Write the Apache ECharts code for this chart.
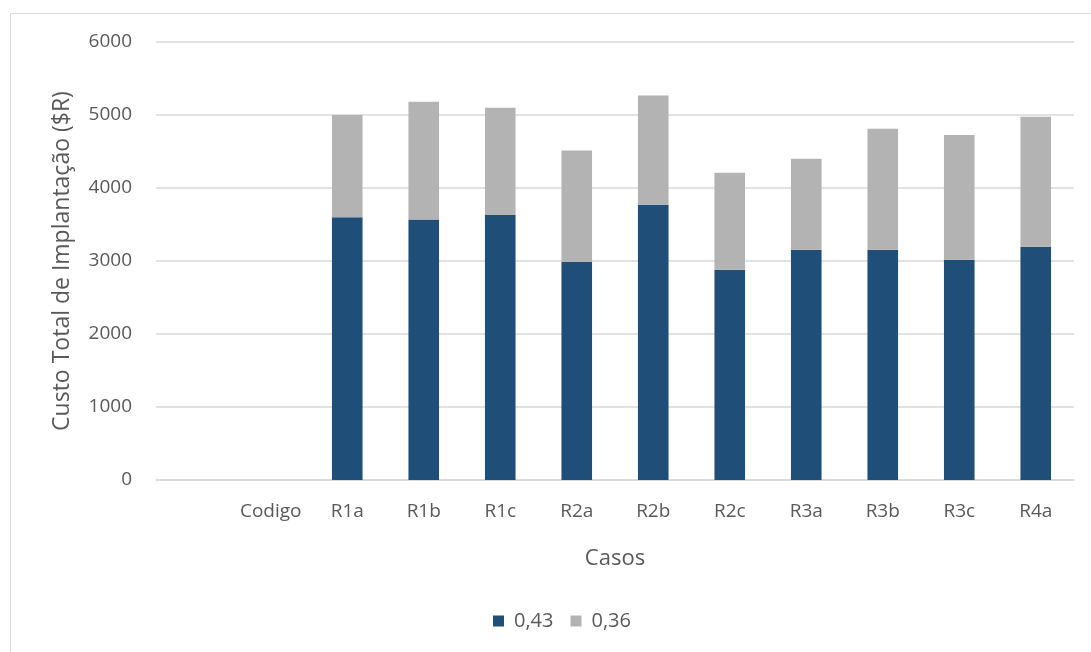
<!DOCTYPE html>
<html>
<head>
<meta charset="utf-8">
<script src="https://cdn.jsdelivr.net/npm/echarts@6/dist/echarts.min.js"></script>
<style>
  html, body { margin: 0; padding: 0; background: #fff; }
  #main { width: 1091px; height: 652px; }
</style>
</head>
<body>
<div id="main"></div>
<script>
  // dados
  var casos = ['', 'Codigo', 'R1a', 'R1b', 'R1c', 'R2a', 'R2b', 'R2c', 'R3a', 'R3b', 'R3c', 'R4a']
  var serie043 = [null, null, 3600, 3570, 3630, 2990, 3770, 2880, 3155, 3155, 3018, 3196]
  var serie036 = [null, null, 1400, 1610, 1470, 1525, 1497, 1329, 1246, 1657, 1708, 1781]
  var yTicks = [0, 1000, 2000, 3000, 4000, 5000, 6000]

  var fonte = 'Open Sans'
  var corTexto = '#595959'

  var myChart = echarts.init(document.getElementById('main'))
  myChart.setOption({
    animation: false,
    color: ['#1F4E79', '#B3B3B3'],
    graphic: [{
      type: 'rect',
      shape: { x: 10.5, y: 13.5, width: 1085, height: 645 },
      style: { fill: 'none', stroke: '#d9d9d9', lineWidth: 1 },
      silent: true
    }],
    grid: { left: 156, right: 17, top: 42, bottom: 172 },
    legend: {
      bottom: 16,
      left: 488,
      itemWidth: 11,
      itemHeight: 11,
      itemGap: 17,
      icon: 'rect',
      textStyle: { fontFamily: fonte, fontSize: 20, color: corTexto, padding: [0, 0, 0, 5] },
      data: ['0,43', '0,36']
    },
    xAxis: {
      type: 'category',
      data: casos,
      name: 'Casos',
      nameLocation: 'middle',
      nameGap: 68,
      nameTextStyle: { fontFamily: fonte, fontSize: 22, color: corTexto },
      axisLine: { lineStyle: { color: '#d9d9d9', width: 1.5 } },
      axisTick: { show: false },
      axisLabel: { fontFamily: fonte, fontSize: 19, color: corTexto, margin: 22, interval: 0 }
    },
    yAxis: {
      type: 'value',
      min: yTicks[0],
      max: yTicks[yTicks.length - 1],
      interval: 1000,
      name: 'Custo Total de Implantação ($R)',
      nameLocation: 'middle',
      nameGap: 82,
      nameTextStyle: { fontFamily: fonte, fontSize: 23, color: corTexto },
      axisLine: { show: false },
      axisTick: { show: false },
      axisLabel: {
        fontFamily: fonte, fontSize: 19, color: corTexto, margin: 24,
        formatter: function (v) { return String(v) }
      },
      splitLine: { lineStyle: { color: '#d9d9d9', width: 1.5 } }
    },
    series: [{
      name: '0,43',
      type: 'bar',
      stack: 'total',
      barWidth: '40%',
      data: serie043
    }, {
      name: '0,36',
      type: 'bar',
      stack: 'total',
      barWidth: '40%',
      data: serie036
    }]
  })
</script>
</body>
</html>
